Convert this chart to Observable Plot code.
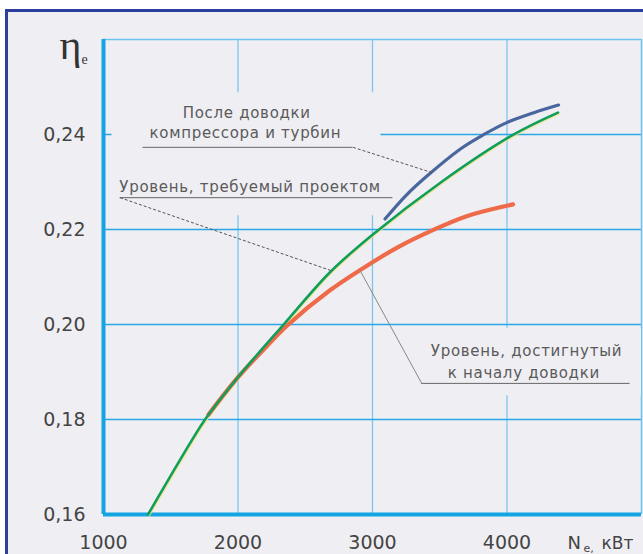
<!DOCTYPE html>
<html>
<head>
<meta charset="utf-8">
<script src="https://cdn.jsdelivr.net/npm/d3@7"></script>
<script src="https://cdn.jsdelivr.net/npm/@observablehq/plot@0.6"></script>
<style>
  html, body { margin: 0; padding: 0; background: #ffffff; }
  #panel {
    position: absolute; left: 5px; top: 9px; width: 700px; height: 600px;
    border-left: 3px solid #2c3f9e; border-top: 3px solid #2c3f9e;
    background: #efeef3;
  }
  #chart { position: absolute; left: 0; top: 0; }
  #chart g[fill="#5a5a5a"] text { letter-spacing: 0.7px; }
</style>
</head>
<body>
<div id="panel"></div>
<div id="chart"></div>
<script>
// Effective efficiency ηe against effective power Ne, kW

// Level required by the design
const designPower = [1331, 1656, 1755, 2000, 2349, 2684, 3000, 3502, 4037, 4379];
const designEta   = [0.160, 0.1756, 0.180, 0.1889, 0.2003, 0.2110, 0.2189, 0.2298, 0.2398, 0.2446];

// Level reached at the start of development
const reachedPower = [1780, 2000, 2200, 2362, 2684, 3000, 3204, 3428, 3700, 3998, 4045];
const reachedEta   = [0.1810, 0.1889, 0.1950, 0.1997, 0.2072, 0.2131, 0.2165, 0.2196, 0.2228, 0.2250, 0.2253];

// After development of the compressor and turbines
const tunedPower = [3093, 3250, 3403, 3651, 3822, 3998, 4200, 4383];
const tunedEta   = [0.2222, 0.2272, 0.2312, 0.2369, 0.2399, 0.2425, 0.2446, 0.2462];

// Axis ticks
const xTicks = [1000, 2000, 3000, 4000];
const yTicks = [0.16, 0.18, 0.20, 0.22, 0.24];

// Callout texts
const noteLabels = [
  "После доводки",
  "компрессора и турбин",
  "Уровень, требуемый проектом",
  "Уровень, достигнутый",
  "к началу доводки"
];

const toRows = (xs, ys) => xs.map((x, i) => ({x, y: ys[i]}));
const design = toRows(designPower, designEta);
const reached = toRows(reachedPower, reachedEta);
const tuned = toRows(tunedPower, tunedEta);

// Callout placement, in chart units
const notePos = [
  {x: 2065, y: 0.2444},
  {x: 2055, y: 0.2402},
  {x: 2090, y: 0.2289},
  {x: 4145, y: 0.1943},
  {x: 4125, y: 0.1897}
];
const notes = noteLabels.map((label, i) => ({label, ...notePos[i]}));
const underlines = [
  {x1: 1294, x2: 2855, y: 0.2373},
  {x1: 1123, x2: 3152, y: 0.2267},
  {x1: 3366, x2: 4915, y: 0.1876}
];
const dashedLeaders = [
  {x1: 2855, y1: 0.2373, x2: 3440, y2: 0.2320},
  {x1: 1123, y1: 0.2267, x2: 2697, y2: 0.2113}
];
const solidLeaders = [
  {x1: 3366, y1: 0.1876, x2: 2907, y2: 0.2114}
];
// Plain panels behind the callouts (they hide the grid)
const calloutPanels = [
  {x1: 1063, x2: 3063, y1: 0.2229, y2: 0.2488},
  {x1: 3190, x2: 5000, y1: 0.1850, y2: 0.1992}
];

const bg = "#efeef3";
const frameBlue = "#14a3e3";
const fmt = d => d.toFixed(2).replace(".", ",");

const chart = Plot.plot({
  width: 643,
  height: 554,
  marginLeft: 103,
  marginRight: 2,
  marginTop: 39,
  marginBottom: 40,
  style: {background: "transparent", fontFamily: "DejaVu Sans", color: "#444"},
  x: {domain: [1000, 5000], ticks: xTicks, tickSize: 0, tickPadding: 21, tickFormat: d => String(d), label: null},
  y: {domain: [0.16, 0.26], ticks: yTicks, tickSize: 0, tickPadding: 18, tickFormat: fmt, label: null},
  marks: [
    // grid
    Plot.ruleX(xTicks.slice(1), {stroke: "#7cc6ee", strokeWidth: 1.3}),
    Plot.ruleY(yTicks.slice(1), {stroke: "#2aa8e6", strokeWidth: 1.6}),
    // frame
    Plot.ruleY([0.26], {stroke: "#6cc3ee", strokeWidth: 1.5}),
    Plot.ruleX([5000], {stroke: "#6cc3ee", strokeWidth: 1.5}),
    Plot.ruleX([1000], {stroke: frameBlue, strokeWidth: 4}),
    Plot.ruleY([0.16], {stroke: frameBlue, strokeWidth: 4}),
    // callout panels
    Plot.rect(calloutPanels, {x1: "x1", x2: "x2", y1: "y1", y2: "y2", fill: bg}),
    // curves
    Plot.line(design, {x: "x", y: "y", curve: "catmull-rom", stroke: "#f2e27a", strokeWidth: 2.2, dx: 1.2, dy: 0.8, strokeOpacity: 0.8}),
    Plot.line(reached, {x: "x", y: "y", curve: "catmull-rom", stroke: "#ee6a48", strokeWidth: 4.2, strokeLinecap: "round"}),
    Plot.line(design, {x: "x", y: "y", curve: "catmull-rom", stroke: "#0f9e5e", strokeWidth: 2.6}),
    Plot.line(tuned, {x: "x", y: "y", curve: "catmull-rom", stroke: "#4a669e", strokeWidth: 3.2, strokeLinecap: "round"}),
    // callout lines
    Plot.ruleY(underlines, {x1: "x1", x2: "x2", y: "y", stroke: "#666", strokeWidth: 1}),
    Plot.link(dashedLeaders, {x1: "x1", y1: "y1", x2: "x2", y2: "y2", stroke: "#555", strokeWidth: 1, strokeDasharray: "3,2"}),
    Plot.link(solidLeaders, {x1: "x1", y1: "y1", x2: "x2", y2: "y2", stroke: "#888", strokeWidth: 1}),
    // callout texts
    Plot.text(notes, {x: "x", y: "y", text: "label", fill: "#5a5a5a", fontSize: 15, lineAnchor: "middle"}),
    // axis titles
    Plot.text(["η"], {frameAnchor: "top-left", dx: -44, dy: 19, textAnchor: "start", lineAnchor: "bottom", fontFamily: "Liberation Serif", fontSize: 42, fill: "#333"}),
    Plot.text(["e"], {frameAnchor: "top-left", dx: -22, dy: 24, textAnchor: "start", lineAnchor: "bottom", fontFamily: "Liberation Serif", fontSize: 14, fill: "#333"}),
    Plot.text(["N"], {frameAnchor: "bottom-right", dx: -74, dy: 34, textAnchor: "start", lineAnchor: "bottom", fontSize: 18, fill: "#444"}),
    Plot.text(["e,"], {frameAnchor: "bottom-right", dx: -58, dy: 37, textAnchor: "start", lineAnchor: "bottom", fontSize: 11, fill: "#444"}),
    Plot.text(["кВт"], {frameAnchor: "bottom-right", dx: -40, dy: 34, textAnchor: "start", lineAnchor: "bottom", fontSize: 17, fill: "#444"})
  ]
});

// soften the reached-level curve
d3.select(chart).selectAll('g[stroke="#ee6a48"]').style("filter", "blur(0.5px)");
d3.select(chart).selectAll('g[aria-label="x-axis tick label"], g[aria-label="y-axis tick label"], g[aria-label="x-axis"], g[aria-label="y-axis"]').attr("font-size", 19);

document.getElementById("chart").appendChild(chart);
</script>
</body>
</html>
